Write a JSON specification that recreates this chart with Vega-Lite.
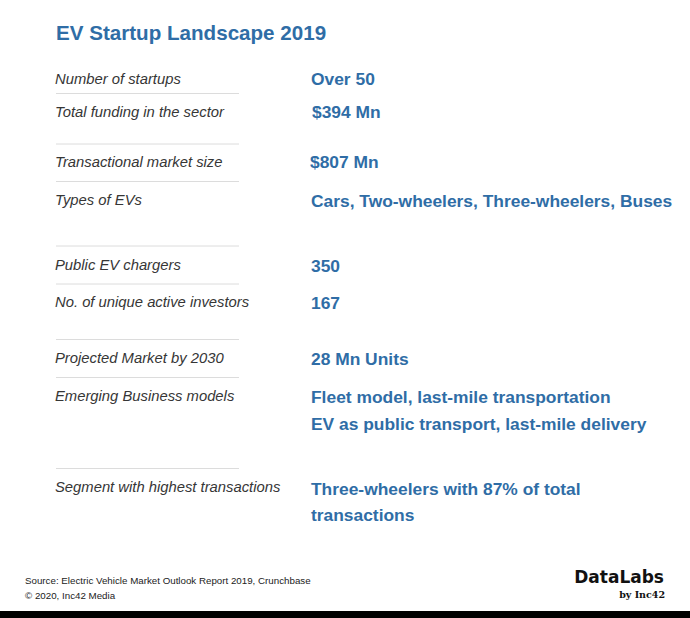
{
  "$schema": "https://vega.github.io/schema/vega-lite/v6.json",
  "width": 690,
  "height": 618,
  "autosize": {"type": "fit", "contains": "padding"},
  "padding": 0,
  "background": "white",
  "config": {"view": {"stroke": null}},
  "datasets": {
    "title": [{"text": "EV Startup Landscape 2019", "x": 56, "y": 34}],
    "labels": [
      {"text": "Number of startups", "x": 55, "y": 80},
      {"text": "Total funding in the sector", "x": 55, "y": 113},
      {"text": "Transactional market size", "x": 55, "y": 163},
      {"text": "Types of EVs", "x": 55, "y": 201},
      {"text": "Public EV chargers", "x": 55, "y": 266},
      {"text": "No. of unique active investors", "x": 55, "y": 303},
      {"text": "Projected Market by 2030", "x": 55, "y": 359},
      {"text": "Emerging Business models", "x": 55, "y": 397},
      {"text": "Segment with highest transactions", "x": 55, "y": 488}
    ],
    "values": [
      {"text": "Over 50", "x": 311, "y": 80},
      {"text": "$394 Mn", "x": 312, "y": 113},
      {"text": "$807 Mn", "x": 310, "y": 163},
      {"text": "Cars, Two-wheelers, Three-wheelers, Buses", "x": 311, "y": 202},
      {"text": "350", "x": 311, "y": 267},
      {"text": "167", "x": 311, "y": 304},
      {"text": "28 Mn Units", "x": 311, "y": 360},
      {"text": "Fleet model, last-mile transportation", "x": 311, "y": 398},
      {"text": "EV as public transport, last-mile delivery", "x": 311, "y": 425},
      {"text": "Three-wheelers with 87% of total", "x": 311, "y": 490},
      {"text": "transactions", "x": 311, "y": 516}
    ],
    "separators": [
      {"x": 56, "x2": 239, "y": 93.5},
      {"x": 56, "x2": 239, "y": 144},
      {"x": 56, "x2": 239, "y": 181.5},
      {"x": 56, "x2": 239, "y": 246},
      {"x": 56, "x2": 239, "y": 284},
      {"x": 56, "x2": 239, "y": 339.5},
      {"x": 56, "x2": 239, "y": 377.5},
      {"x": 56, "x2": 239, "y": 468.5}
    ],
    "footer": [
      {"text": "Source: Electric Vehicle Market Outlook Report 2019, Crunchbase", "x": 25, "y": 580.5},
      {"text": "© 2020, Inc42 Media", "x": 25, "y": 596}
    ],
    "logo": [{"text": "DataLabs", "x": 664, "y": 578}],
    "logosub": [{"text": "by Inc42", "x": 665, "y": 595}],
    "bar": [{"x": 0, "x2": 690, "y": 611, "y2": 618}]
  },
  "encoding": {
    "x": {"field": "x", "type": "quantitative", "scale": {"domain": [0, 690], "nice": false, "zero": false}, "axis": null},
    "y": {"field": "y", "type": "quantitative", "scale": {"domain": [0, 618], "reverse": true, "nice": false, "zero": false}, "axis": null}
  },
  "layer": [
    {
      "data": {"name": "bar"},
      "mark": {"type": "rect", "color": "#000000"},
      "encoding": {"x2": {"field": "x2"}, "y2": {"field": "y2"}}
    },
    {
      "data": {"name": "separators"},
      "mark": {"type": "rule", "color": "#dcdcdc", "strokeWidth": 1},
      "encoding": {"x2": {"field": "x2"}}
    },
    {
      "data": {"name": "title"},
      "mark": {"type": "text", "align": "left", "baseline": "middle", "font": "Liberation Sans", "fontWeight": "bold", "fontSize": 20.6, "color": "#2f6da6"},
      "encoding": {"text": {"field": "text"}}
    },
    {
      "data": {"name": "labels"},
      "mark": {"type": "text", "align": "left", "baseline": "middle", "font": "Liberation Sans", "fontStyle": "italic", "fontSize": 14.8, "color": "#363636"},
      "encoding": {"text": {"field": "text"}}
    },
    {
      "data": {"name": "values"},
      "mark": {"type": "text", "align": "left", "baseline": "middle", "font": "Liberation Sans", "fontWeight": "bold", "fontSize": 17.4, "color": "#2f6da6"},
      "encoding": {"text": {"field": "text"}}
    },
    {
      "data": {"name": "footer"},
      "mark": {"type": "text", "align": "left", "baseline": "middle", "font": "Liberation Sans", "fontSize": 9.75, "color": "#222222"},
      "encoding": {"text": {"field": "text"}}
    },
    {
      "data": {"name": "logo"},
      "mark": {"type": "text", "align": "right", "baseline": "middle", "font": "DejaVu Sans", "fontWeight": "bold", "fontSize": 17, "color": "#111111"},
      "encoding": {"text": {"field": "text"}}
    },
    {
      "data": {"name": "logosub"},
      "mark": {"type": "text", "align": "right", "baseline": "middle", "font": "DejaVu Serif", "fontWeight": "bold", "fontSize": 9.5, "color": "#111111"},
      "encoding": {"text": {"field": "text"}}
    }
  ]
}
